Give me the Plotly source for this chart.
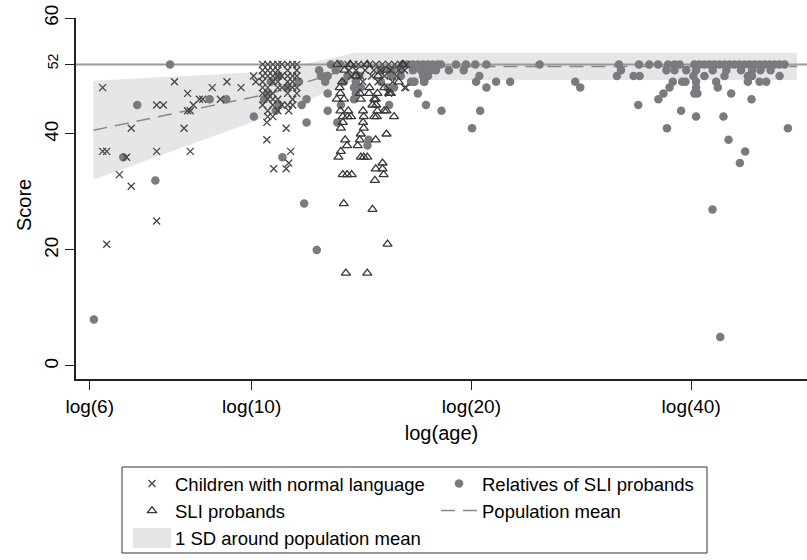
import math
import plotly.graph_objects as go

# ---------------- data (age in years, score) ----------------
children_age = [6.25, 6.25, 6.33, 6.33, 6.59, 6.74, 6.84, 6.84, 7.41, 7.41, 7.41, 7.57, 7.84, 8.08,
                8.17, 8.17, 8.24, 8.24, 8.32, 8.48, 8.57, 8.83, 9.06, 9.25, 9.67, 10.06, 10.13,
                10.35, 10.52, 10.69, 10.86, 11.0,
                10.35, 10.52, 10.69, 10.86,
                10.35, 10.52, 10.69, 10.86, 11.0,
                10.35, 10.69, 10.86,
                10.35, 10.52, 10.86, 11.0,
                10.35, 10.52, 10.69,
                10.52, 10.69, 10.86,
                10.35, 10.69, 11.0,
                10.52, 10.86,
                10.52, 10.69,
                10.49, 10.49, 10.72,
                11.2, 11.38, 11.53,
                11.2, 11.53,
                11.2, 11.38, 11.53,
                11.2, 11.38,
                11.2, 11.38, 11.53,
                11.2, 11.53,
                11.38,
                11.2, 11.38,
                11.24, 11.15, 11.31, 11.24, 11.15,
                13.55, 13.8, 14.0, 14.25, 14.5, 14.8, 15.1, 15.4, 15.7, 16.0, 16.3,
                13.6, 13.9, 14.3, 14.7, 15.0, 15.5, 15.9, 16.2,
                13.7, 14.1, 14.6, 15.2, 15.8,
                14.2, 14.9, 15.6,
                16.2, 16.27, 15.4]
children_score = [48, 37, 37, 21, 33, 36, 41, 31, 45, 37, 25, 45, 49, 41,
                  47, 44, 44, 37, 45, 46, 46, 48, 46, 49, 48, 50, 49,
                  52, 52, 52, 52, 52,
                  51, 51, 51, 51,
                  50, 50, 50, 50, 50,
                  49, 49, 49,
                  48, 48, 48, 48,
                  47, 47, 47,
                  46, 46, 46,
                  45, 45, 45,
                  44, 44,
                  43, 43,
                  42, 39, 34,
                  52, 52, 52,
                  51, 51,
                  50, 50, 50,
                  49, 49,
                  48, 48, 48,
                  47, 47,
                  46,
                  45, 45,
                  44, 41, 37, 35, 34,
                  52, 52, 52, 52, 52, 52, 52, 52, 52, 52, 52,
                  51, 51, 51, 51, 51, 51, 51, 51,
                  50, 50, 50, 50, 50,
                  49, 49, 49,
                  48, 48, 47]

sli_age = [13.23, 13.08, 13.38, 14.11, 14.48, 14.87, 14.79, 15.43, 14.07, 15.51, 14.72, 14.64,
           13.23, 13.56, 13.53, 13.68, 13.33, 13.33, 13.25,
           14.21, 14.24, 14.21, 14.24,
           14.72, 14.84, 14.87, 14.81,
           15.19, 15.30, 15.67, 15.30,
           13.43, 14.06, 13.51, 13.97, 14.79, 14.11,
           13.25, 13.15, 14.11, 14.24, 14.40,
           15.11, 14.79, 15.11, 15.16,
           13.33, 13.51, 13.71, 14.75,
           13.37, 14.64, 15.35, 13.46, 14.40,
           13.1, 13.64, 14.4, 13.4, 15.3, 13.9, 14.9, 15.9, 16.1, 13.3, 14.5, 13.2, 15.2]
sli_score = [47, 46, 46, 46, 47, 47, 46, 47, 47, 47, 46, 45,
             44, 44, 43, 43, 43, 42, 41,
             44, 43, 42, 41,
             43, 43, 44, 45,
             44, 44, 43, 40,
             39, 39, 38, 38, 39, 40,
             37, 36, 36, 36, 36,
             35, 34, 34, 33,
             33, 33, 33, 32,
             28, 27, 21, 16, 16,
             52, 52, 52, 51, 51, 50, 50, 49, 52, 49, 48, 48, 48]

relatives_age = [6.08, 6.67, 6.97, 7.38, 7.73, 8.76, 9.23, 10.07,
                 10.62, 10.90, 11.19, 10.52, 10.40, 10.90, 10.79, 11.02,
                 11.61, 11.89, 11.71, 11.89, 11.80, 12.28,
                 12.37, 12.44, 12.61, 12.71, 12.71, 12.84, 13.23, 13.1,
                 13.38, 13.53, 13.89, 14.04, 13.89, 14.46, 14.41, 13.25,
                 13.81, 14.11, 13.81, 12.71, 13.04, 12.64,
                 15.03, 15.43, 15.51, 16.01, 16.01, 15.67, 16.63, 16.71, 16.89, 17.24, 17.33, 18.2,
                 15.03, 15.36, 16.53, 15.43, 16.11, 15.56, 16.35,
                 16.63, 16.89, 17.17, 17.44, 17.71, 17.99, 18.16, 19.05, 19.66, 20.25, 20.97, 24.80,
                 17.06, 17.33, 17.60, 17.88, 18.63, 19.52,
                 17.17, 17.44, 20.51,
                 16.68, 17.22, 20.30, 21.62, 22.60,
                 20.97, 20.56, 20.04, 27.75, 28.19,
                 31.85, 33.93, 35.05, 36.03, 37.19, 37.95, 38.56, 40.41, 41.05, 41.71, 42.37, 43.05,
                 43.74, 44.43, 45.14, 45.86, 46.59, 47.33, 48.08, 48.85, 49.63, 50.42, 51.22, 52.04,
                 52.87, 53.71,
                 32.06, 37.00, 37.95, 39.38, 40.62, 42.82, 44.69, 46.81, 48.47, 49.78, 51.38,
                 31.65, 33.36, 34.00, 40.28, 41.71, 44.43, 47.83, 48.47, 52.87,
                 37.74, 38.88, 39.29, 40.62, 43.28, 47.83, 49.63, 50.69,
                 37.36, 40.62, 43.50,
                 36.65, 40.41, 40.8, 45.38,
                 36.07, 48.39, 33.85, 38.75, 40.62, 44.29, 37.06, 54.27,
                 45.00, 47.43, 46.64, 42.78, 43.84]
relatives_score = [8, 36, 45, 32, 52, 46, 46, 43,
                   49, 50, 48, 47, 46, 45, 44, 36,
                   49, 46, 45, 42, 28, 20,
                   51, 50, 49, 47, 44, 52, 52, 42,
                   49, 50, 49, 50, 47, 39, 38, 45,
                   48, 48, 46, 50, 51, 50,
                   51, 51, 50, 51, 50, 48, 51, 49, 47, 49, 45, 44,
                   49, 48, 49, 45, 52, 51, 52,
                   52, 52, 52, 52, 52, 52, 52, 52, 52, 52, 52, 52,
                   51, 51, 51, 51, 51, 51,
                   50, 50, 50,
                   49, 49, 49, 49, 49,
                   48, 44, 41, 49, 48,
                   52, 52, 52, 52, 52, 52, 52, 52, 52, 52, 52, 52,
                   52, 52, 52, 52, 52, 52, 52, 52, 52, 52, 52, 52,
                   52, 52,
                   51, 51, 51, 51, 51, 51, 51, 51, 51, 51, 51,
                   50, 50, 50, 50, 50, 50, 50, 50, 50,
                   49, 49, 49, 49, 49, 49, 49, 49,
                   48, 48, 48,
                   47, 47, 47, 47,
                   46, 46, 45, 44, 43, 43, 41, 41,
                   39, 37, 35, 27, 5]

# population norms (mean and SD) at node ages
norm_age = [6.07, 10.62, 13.89, 55.85]
norm_mean = [40.65, 47.0, 51.65, 51.65]
norm_sd = [8.55, 3.8, 2.35, 2.35]

ref_score = 52
x_ticks = [6, 10, 20, 40]
x_ticktext = ["log(6)", "log(10)", "log(20)", "log(40)"]
y_ticks = [0, 20, 40, 52, 60]
y_ticktext = ["0", "20", "40", "<span style='font-size:14px'>52</span>", "60"]

x_lo, x_hi = 5.746, 57.64
y_lo, y_hi = -2.245, 60.0

FONT = "Liberation Sans, Arial, sans-serif"
W, H = 807, 560
ML, MR, MT, MB = 76, 0, 18, 181
PW, PH = W - ML - MR, H - MT - MB


def px_x(p):  # pixel -> paper x
    return (p - ML) / PW


def px_y(p):  # pixel -> paper y
    return (H - MB - p) / PH


upper = [m + s for m, s in zip(norm_mean, norm_sd)]
lower = [m - s for m, s in zip(norm_mean, norm_sd)]
BAND = "#e6e6e8"

fig = go.Figure()

fig.add_trace(go.Scatter(
    x=norm_age + norm_age[::-1], y=upper + lower[::-1],
    fill="toself", fillcolor=BAND, mode="none",
    name="1 SD around population mean", legendrank=5, hoverinfo="skip"))

fig.add_trace(go.Scatter(
    x=[x_lo, x_hi], y=[ref_score, ref_score], mode="lines",
    line=dict(color="#9a9a9a", width=2), showlegend=False, hoverinfo="skip"))

fig.add_trace(go.Scatter(
    x=norm_age, y=norm_mean, mode="lines",
    line=dict(color="#888888", width=1.5, dash="14px,8px"),
    name="Population mean", legendrank=4))

fig.add_trace(go.Scatter(
    x=relatives_age, y=relatives_score, mode="markers",
    marker=dict(symbol="circle", size=8.5, color="#7a7a7f", line=dict(width=0)),
    name="Relatives of SLI probands", legendrank=2))

fig.add_trace(go.Scatter(
    x=children_age, y=children_score, mode="markers",
    marker=dict(symbol="x-thin-open", size=7, color="#454545", line=dict(width=1.3, color="#454545")),
    name="Children with normal language", legendrank=1))

fig.add_trace(go.Scatter(
    x=sli_age, y=sli_score, mode="markers",
    marker=dict(symbol="triangle-up-open", size=8, color="#383838", line=dict(width=1.3, color="#383838")),
    name="SLI probands", legendrank=3))

# legend frame and SD swatch (behind a transparent legend)
shapes = [
    dict(type="rect", xref="paper", yref="paper", layer="below",
         x0=px_x(122), x1=px_x(707), y0=px_y(553), y1=px_y(467),
         line=dict(color="#333", width=1), fillcolor="rgba(0,0,0,0)"),
    dict(type="rect", xref="paper", yref="paper", layer="below",
         x0=px_x(133), x1=px_x(171), y0=px_y(548), y1=px_y(528),
         line=dict(width=0), fillcolor=BAND),
]

fig.update_layout(
    width=W, height=H,
    margin=dict(l=ML, r=MR, t=MT, b=MB),
    paper_bgcolor="white", plot_bgcolor="white",
    font=dict(family=FONT, size=19, color="#000"),
    showlegend=True,
    shapes=shapes,
    legend=dict(
        orientation="h", x=px_x(129), xanchor="left", y=px_y(465), yanchor="top",
        borderwidth=0, bgcolor="rgba(0,0,0,0)",
        font=dict(family=FONT, size=18.5, color="#000"),
        entrywidth=256, entrywidthmode="pixels", itemwidth=36,
        traceorder="normal", tracegroupgap=0),
    annotations=[dict(text="Score", xref="paper", yref="paper",
                      x=px_x(24), y=px_y(205), xanchor="center", yanchor="middle",
                      textangle=-90, showarrow=False, font=dict(size=20))],
)

fig.update_xaxes(
    type="log", range=[math.log10(x_lo), math.log10(x_hi)],
    tickmode="array", tickvals=x_ticks, ticktext=x_ticktext,
    ticks="outside", ticklen=9, tickwidth=1.2, tickcolor="#222",
    showline=True, linecolor="#222", linewidth=1.5,
    showgrid=False, zeroline=False,
    tickfont=dict(size=19),
    title=dict(text="log(age)", font=dict(size=20), standoff=10),
)
fig.update_yaxes(
    range=[y_lo, y_hi],
    tickmode="array", tickvals=y_ticks, ticktext=y_ticktext,
    tickangle=-90,
    ticks="outside", ticklen=9, tickwidth=1.2, tickcolor="#222",
    showline=True, linecolor="#222", linewidth=1.5,
    showgrid=False, zeroline=False,
    tickfont=dict(size=19),
)

fig.write_html("out.html")
